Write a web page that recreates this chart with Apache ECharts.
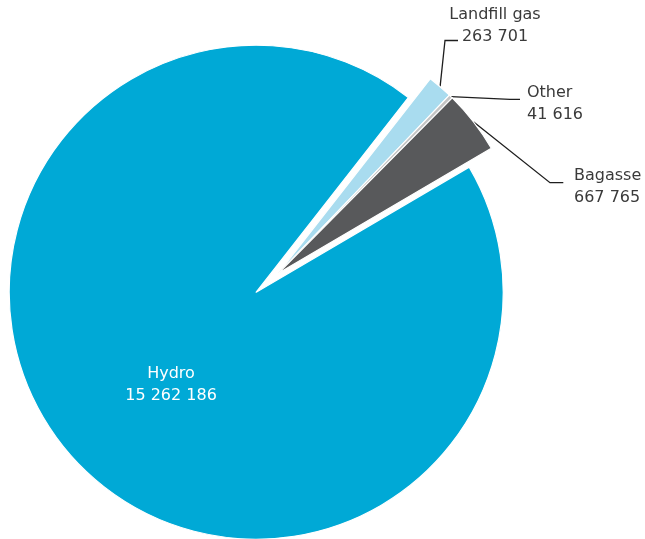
<!DOCTYPE html>
<html>
<head>
<meta charset="utf-8">
<script src="https://cdn.jsdelivr.net/npm/echarts@6/dist/echarts.min.js"></script>
<style>
  html, body { margin: 0; padding: 0; background: #ffffff; }
  #chart { width: 645px; height: 539px; }
</style>
</head>
<body>
<div id="chart"></div>
<script>
// Electricity generation by renewable source
const categories = ['Landfill gas', 'Other', 'Bagasse', 'Hydro'];
const values = [263701, 41616, 667765, 15262186];
const colors = ['#a9dcef', '#c4c4c4', '#58595b', '#00a9d6'];

const FONT = 'DejaVu Sans';
const RADIUS = 247;
const START = 52;
const HYDRO = 3;

function spaced(v) {
  return String(v).replace(/\B(?=(\d{3})+(?!\d))/g, ' ');
}

// Hydro drawn from the main centre; the three small sources are pulled out together
function buildData(showSmall) {
  return categories.map(function (name, i) {
    const isSmall = i !== HYDRO;
    const visible = isSmall === showSmall;
    return {
      name: name,
      value: values[i],
      itemStyle: visible
        ? { color: colors[i], borderColor: '#ffffff', borderWidth: 1.2 }
        : { color: 'rgba(0,0,0,0)', borderWidth: 0 },
      label: { show: visible },
      labelLine: { show: visible && isSmall }
    };
  });
}

// label placement for the pulled-out slices (anchor, alignment, elbow of leader line)
const outerLabels = {
  0: { x: 495, y: 26, align: 'center', elbow: [-50, 14.5], end: [-37, 14.5] },
  1: { x: 527, y: 104, align: 'left', elbow: [-17, -4.7], end: [-7, -4.7] },
  2: { x: 574, y: 186.5, align: 'left', elbow: [-24, -3.8], end: [-10.7, -3.8] }
};

const chart = echarts.init(document.getElementById('chart'), null, { renderer: 'canvas' });

chart.setOption({
  animation: false,
  backgroundColor: '#ffffff',
  series: [
    {
      type: 'pie',
      silent: true,
      center: [256.2, 292.2],
      radius: [0, RADIUS],
      startAngle: START,
      clockwise: true,
      avoidLabelOverlap: false,
      data: buildData(false),
      label: {
        position: 'inside',
        formatter: function (p) { return p.name + '\n' + spaced(p.value); },
        color: '#ffffff',
        fontFamily: FONT,
        fontSize: 16,
        lineHeight: 22,
        align: 'center'
      },
      labelLine: { show: false },
      labelLayout: function () {
        return { dx: 10, dy: 9 };
      }
    },
    {
      type: 'pie',
      silent: true,
      center: [278.3, 273.3],
      radius: [0, RADIUS],
      startAngle: START,
      clockwise: true,
      avoidLabelOverlap: false,
      data: buildData(true),
      label: {
        position: 'outside',
        formatter: function (p) { return p.name + '\n' + spaced(p.value); },
        color: '#3a3a3a',
        fontFamily: FONT,
        fontSize: 16,
        lineHeight: 22
      },
      labelLine: {
        show: true,
        length: 20,
        length2: 10,
        lineStyle: { color: '#1e1e1e', width: 1.3 }
      },
      labelLayout: function (params) {
        const cfg = outerLabels[params.dataIndex];
        if (!cfg) return {};
        const start = params.labelLinePoints ? params.labelLinePoints[0] : [cfg.x, cfg.y];
        return {
          x: cfg.x,
          y: cfg.y,
          align: cfg.align,
          verticalAlign: 'middle',
          labelLinePoints: [
            [start[0], start[1]],
            [cfg.x + cfg.elbow[0], cfg.y + cfg.elbow[1]],
            [cfg.x + cfg.end[0], cfg.y + cfg.end[1]]
          ]
        };
      }
    }
  ]
});
</script>
</body>
</html>
